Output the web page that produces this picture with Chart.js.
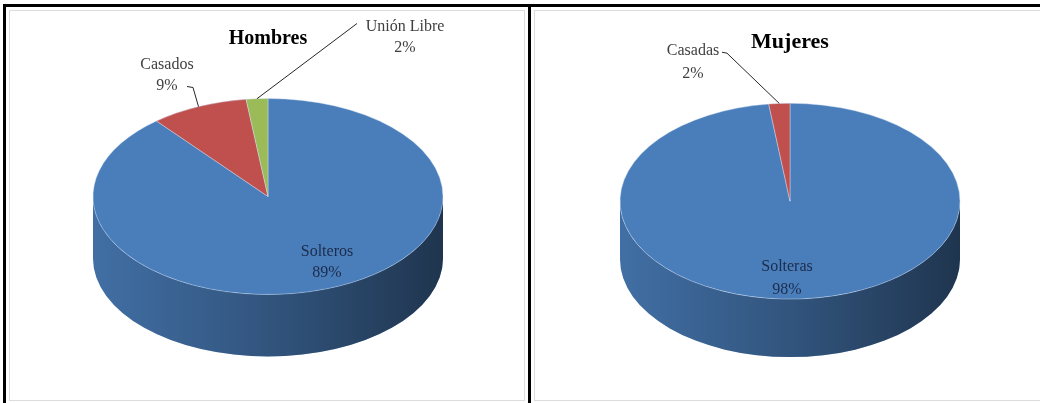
<!DOCTYPE html>
<html>
<head>
<meta charset="utf-8">
<script src="https://cdn.jsdelivr.net/npm/chart.js@4/dist/chart.umd.min.js"></script>
<style>
  body { margin: 0; width: 1040px; height: 403px; background: #fff; position: relative; overflow: hidden; }
  .panel { position: absolute; top: 4px; height: 399px; box-sizing: border-box; border-top: 3px solid #000; }
  #left { left: 3px; width: 528px; border-left: 3px solid #000; border-right: 3px solid #000; }
  #right { left: 531px; width: 509px; }
  .frame { position: absolute; left: 3px; top: 3px; right: 3px; bottom: 2px; border: 1px solid #dcdcdc; }
  #right .frame { right: -4px; }
  canvas { position: absolute; left: 0; top: 0; }
</style>
</head>
<body>
<div class="panel" id="left"><div class="frame"></div><canvas id="hombresChart" width="522" height="396"></canvas></div>
<div class="panel" id="right"><div class="frame"></div><canvas id="mujeresChart" width="509" height="396"></canvas></div>
<script>
// estado civil por sexo (%)
const hombresLabels = ['Solteros', 'Casados', 'Unión Libre'];
const hombresValues = [89, 9, 2];
const mujeresLabels = ['Solteras', 'Casadas'];
const mujeresValues = [98, 2];

const sliceColors = ['#4a7ebb', '#c0504d', '#9bbb59'];
const serif = '"Liberation Serif", "Times New Roman", serif';

// flattens the pie into an ellipse and draws the front wall underneath it
const tiltPlugin = {
    id: 'tilt3d',
    beforeDatasetsDraw(chart, args, opts) {
        const ctx = chart.ctx;
        const arcs = chart.getDatasetMeta(0).data;
        const cx = arcs[0].x, cy = arcs[0].y, r = arcs[0].outerRadius;
        const ry = r * opts.tilt;
        const depth = opts.depth;

        arcs.forEach((arc) => {
            const a0 = Math.max(arc.startAngle, 0);
            const a1 = Math.min(arc.endAngle, Math.PI);
            if (a1 <= a0) return;
            ctx.save();
            ctx.beginPath();
            ctx.ellipse(cx, cy, r, ry, 0, a0, a1);
            ctx.ellipse(cx, cy + depth, r, ry, 0, a1, a0, true);
            ctx.closePath();
            ctx.fillStyle = arc.options.backgroundColor;
            ctx.fill();
            const shade = ctx.createLinearGradient(cx - r, 0, cx + r, 0);
            shade.addColorStop(0, 'rgba(0,0,0,0.12)');
            shade.addColorStop(0.5, 'rgba(0,0,0,0.33)');
            shade.addColorStop(1, 'rgba(0,0,0,0.58)');
            ctx.fillStyle = shade;
            ctx.fill();
            ctx.restore();
        });

        ctx.save();
        ctx.translate(cx, cy);
        ctx.scale(1, opts.tilt);
        ctx.translate(-cx, -cy);
    },
    afterDatasetsDraw(chart) {
        chart.ctx.restore();
    }
};

// category + percentage labels, with leader lines for the small slices
const sliceLabelPlugin = {
    id: 'sliceLabels',
    afterDraw(chart, args, opts) {
        const ctx = chart.ctx;
        const arcs = chart.getDatasetMeta(0).data;
        const cx = arcs[0].x, cy = arcs[0].y, r = arcs[0].outerRadius;
        const ry = r * opts.tilt;
        const names = chart.data.labels;
        const values = chart.data.datasets[0].data;

        ctx.save();
        ctx.font = '16px ' + serif;
        ctx.textAlign = 'center';
        ctx.textBaseline = 'middle';
        arcs.forEach((arc, i) => {
            const pos = opts.positions[i];
            const x = cx + pos.dx, y = cy + pos.dy;
            ctx.fillStyle = pos.inside ? '#1c2c4c' : '#3f3f3f';
            ctx.fillText(names[i], x, y - opts.lineGap / 2);
            ctx.fillText(values[i] + '%', x, y + opts.lineGap / 2);

            if (pos.leader) {
                const mid = (arc.startAngle + arc.endAngle) / 2;
                const ex = cx + r * Math.cos(mid);
                const ey = cy + ry * Math.sin(mid);
                ctx.beginPath();
                ctx.moveTo(cx + pos.leader[0], cy + pos.leader[1]);
                if (pos.elbow) ctx.lineTo(cx + pos.elbow[0], cy + pos.elbow[1]);
                ctx.lineTo(ex, ey);
                ctx.strokeStyle = '#262626';
                ctx.lineWidth = 1;
                ctx.stroke();
            }
        });
        ctx.restore();
    }
};

function makePie(id, labels, values, cfg) {
    const ctx = document.getElementById(id).getContext('2d');
    return new Chart(ctx, {
        type: 'pie',
        data: {
            labels: labels,
            datasets: [{
                data: values,
                backgroundColor: sliceColors.slice(0, values.length),
                borderColor: 'rgba(210,225,245,0.55)',
                borderWidth: 1,
                clip: false
            }]
        },
        options: {
            responsive: false,
            animation: false,
            devicePixelRatio: 1,
            radius: cfg.radius,
            layout: { padding: cfg.padding },
            events: [],
            plugins: {
                legend: { display: false },
                tooltip: { enabled: false },
                title: {
                    display: true,
                    text: cfg.title,
                    color: '#000',
                    font: { family: serif, size: cfg.titleSize, weight: 'bold' },
                    padding: { top: cfg.titleTop, bottom: 0 }
                },
                tilt3d: { tilt: cfg.tilt, depth: cfg.depth },
                sliceLabels: { tilt: cfg.tilt, lineGap: cfg.lineGap, positions: cfg.positions }
            }
        },
        plugins: [tiltPlugin, sliceLabelPlugin]
    });
}

makePie('hombresChart', hombresLabels, hombresValues, {
    title: 'Hombres',
    titleSize: 20,
    titleTop: 20,
    radius: 175,
    tilt: 0.56,
    depth: 62,
    lineGap: 21,
    padding: { left: 2, right: 0, top: 0, bottom: 61 },
    positions: [
        { dx: 59, dy: 66, inside: true },
        { dx: -101, dy: -121, leader: [-81, -110], elbow: [-75, -109] },
        { dx: 137, dy: -159, leader: [89, -173] }
    ]
});

makePie('mujeresChart', mujeresLabels, mujeresValues, {
    title: 'Mujeres',
    titleSize: 22,
    titleTop: 22,
    radius: 170,
    tilt: 0.576,
    depth: 58,
    lineGap: 23,
    padding: { left: 9, right: 0, top: 0, bottom: 56 },
    positions: [
        { dx: -3, dy: 77, inside: true },
        { dx: -97, dy: -139, leader: [-68, -149], elbow: [-63, -148] }
    ]
});
</script>
</body>
</html>
